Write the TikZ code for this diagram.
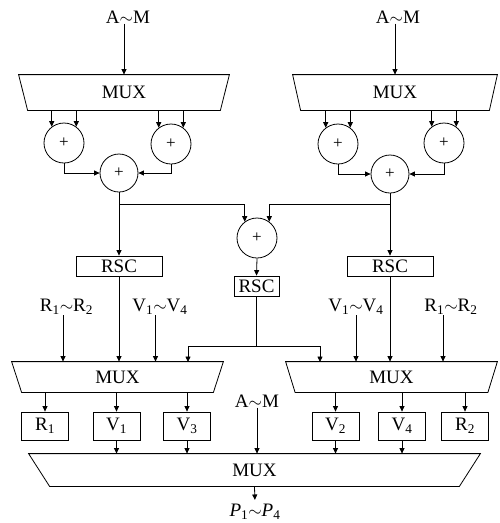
\documentclass[tikz,border=0pt]{standalone}
\usepackage{fontspec}
\setmainfont{Liberation Serif}
\usetikzlibrary{arrows.meta}
\newcommand\tld{$\sim$}
\newcommand\muxshape[2]{\draw (#1.north west) -- (#1.north east) -- ([xshift=-#2]#1.south east) -- ([xshift=#2]#1.south west) -- cycle;}
\begin{document}
\begin{tikzpicture}[x=1pt,y=-1pt, line width=0.8pt,
  >={Triangle[length=5.5pt,width=5pt]},
  lab/.style={font=\fontsize{19}{22}\selectfont, inner sep=0pt},
  muxbox/.style={draw=none, inner sep=0pt, font=\fontsize{19}{22}\selectfont},
  adder/.style={draw, circle, minimum size=40pt, inner sep=0pt, font=\fontsize{17}{19}\selectfont},
  rscbox/.style={draw, rectangle, inner sep=0pt, minimum height=20pt, font=\fontsize{19}{22}\selectfont},
  regbox/.style={draw, rectangle, minimum width=47pt, minimum height=28pt, inner sep=0pt, font=\fontsize{19}{22}\selectfont}]
\useasboundingbox (0,0) rectangle (499,523);

% multiplexers
\node[muxbox, minimum width=210pt, minimum height=35pt] (muxTL) at (124,92.5) {MUX};
\muxshape{muxTL}{9pt}
\node[muxbox, minimum width=204pt, minimum height=35pt] (muxTR) at (395,92.5) {MUX};
\muxshape{muxTR}{8pt}
\node[muxbox, minimum width=211pt, minimum height=30pt] (muxBL) at (117.5,377) {MUX};
\muxshape{muxBL}{10pt}
\node[muxbox, minimum width=211pt, minimum height=30pt] (muxBR) at (391.5,377) {MUX};
\muxshape{muxBR}{9.5pt}
\node[muxbox, minimum width=451pt, minimum height=32pt] (muxB) at (254.5,470) {MUX};
\muxshape{muxB}{21pt}

% top inputs
\node[lab] (amL) at (128,17) {A\tld M};
\node[lab] (amR) at (398,17) {A\tld M};
\draw[->] (amL.south -| muxTL.north) -- (muxTL.north);
\draw[->] (amR.south -| muxTR.north) -- (muxTR.north);

% adders
\node[adder] (a1) at (64,143) {+};
\node[adder] (a2) at (171,144) {+};
\node[adder, minimum size=38pt] (a3) at (119,173) {+};
\node[adder] (b1) at (338,144) {+};
\node[adder] (b2) at (444,143) {+};
\node[adder, minimum size=38pt] (b3) at (390,174) {+};
\node[adder] (c) at (257,238) {+};

\foreach \n/\m in {a1/muxTL,a2/muxTL,b1/muxTR,b2/muxTR}{
  \draw[->] (\n.127 |- \m.south) -- (\n.127);
  \draw[->] (\n.53 |- \m.south) -- (\n.53);
}
\draw[->] (a1.south) |- (a3.west);
\draw[->] (a2.south) |- (a3.east);
\draw[->] (b1.south) |- (b3.west);
\draw[->] (b2.south) |- (b3.east);

% RSC
\node[rscbox, minimum width=86pt] (rscL) at (119,266) {RSC};
\node[rscbox, minimum width=86pt] (rscR) at (390,266) {RSC};
\node[rscbox, minimum width=45pt] (rscM) at (256.5,286) {RSC};

\coordinate (jL) at (119,204);
\coordinate (jR) at (390,204);
\coordinate (jM) at (256.5,346);
\coordinate (inL) at (188,362);
\coordinate (inR) at (320,362);

\draw[->] (a3.south) -- (rscL.north);
\draw[->] (b3.south) -- (rscR.north);
\draw[->] (jL) -| (c.127);
\draw[->] (jR) -| (c.53);
\draw[->] (c.south) -- (rscM.north);
\draw (rscM.south) -- (jM);
\draw[->] (jM) -| (inL);
\draw[->] (jM) -| (inR);

% side inputs
\node[lab] (rrL) at (66.5,307) {R\textsubscript{1}\tld R\textsubscript{2}};
\node[lab] (vvL) at (160,307) {V\textsubscript{1}\tld V\textsubscript{4}};
\node[lab] (vvR) at (356,307) {V\textsubscript{1}\tld V\textsubscript{4}};
\node[lab] (rrR) at (451,307) {R\textsubscript{1}\tld R\textsubscript{2}};
\draw[->] ([xshift=-3.5pt]rrL.south) -- ([xshift=-3.5pt]rrL.south |- muxBL.north);
\draw[->] ([xshift=-4.5pt]vvL.south) -- ([xshift=-4.5pt]vvL.south |- muxBL.north);
\draw[->] (vvR.south) -- (vvR.south |- muxBR.north);
\draw[->] ([xshift=-8pt]rrR.south) -- ([xshift=-8pt]rrR.south |- muxBR.north);
\draw[->] (rscL.south) -- (rscL.south |- muxBL.north);
\draw[->] (rscR.south) -- (rscR.south |- muxBR.north);

% registers
\node[regbox] (r1) at (45,426) {R\textsubscript{1}};
\node[regbox] (v1) at (116.5,426) {V\textsubscript{1}};
\node[regbox] (v3) at (187,426) {V\textsubscript{3}};
\node[regbox] (v2) at (335.5,426) {V\textsubscript{2}};
\node[regbox] (v4) at (402,426) {V\textsubscript{4}};
\node[regbox] (r2) at (465,426) {R\textsubscript{2}};
\foreach \n in {r1,v1,v3}{\draw[->] (muxBL.south -| \n.north) -- (\n.north);}
\foreach \n in {v2,v4,r2}{\draw[->] (muxBR.south -| \n.north) -- (\n.north);}
\foreach \n in {v1,v3,v2,v4}{\draw[->] (\n.south) -- (\n.south |- muxB.north);}

% bottom
\node[lab] (amB) at (257,401) {A\tld M};
\draw[->] (amB.south) -- (amB.south |- muxB.north);
\node[lab] (pB) at (255,512) {\textit{P}\textsubscript{1}\tld\textit{P}\textsubscript{4}};
\draw[->, shorten >=4pt] (muxB.south) -- (pB.north);
\end{tikzpicture}
\end{document}
